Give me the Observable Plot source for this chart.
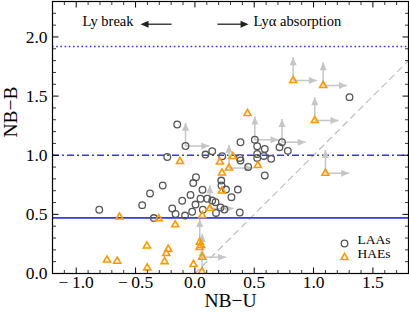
<!DOCTYPE html>
<html><head><meta charset="utf-8">
<script src="https://cdn.jsdelivr.net/npm/d3@7"></script>
<script src="https://cdn.jsdelivr.net/npm/@observablehq/plot@0.6"></script>
<style>html,body{margin:0;padding:0;background:#fff}#chart svg{display:block}</style>
</head><body><div id="chart"></div>
<script>
// ---- data ----
const laaX = [-0.149,-0.079,-0.233,0.089,0.146,0.230,0.384,0.505,0.734,0.525,0.589,0.713,0.783,0.525,0.525,0.581,0.643,0.378,0.384,0.449,0.589,1.303,0.222,0.224,0.362,0.308,0.009,-0.014,-0.271,-0.378,0.064,-0.037,-0.107,0.005,-0.444,-0.191,-0.023,-0.806,-0.083,-0.163,-0.346,0.047,0.104,0.146,0.174,0.067,0.216,0.249,0.178,0.378,0.262];
const laaY = [1.260,1.078,0.985,1.006,1.034,0.992,1.110,1.131,1.110,1.076,1.053,1.068,1.037,1.011,0.977,0.994,0.970,0.977,0.956,0.901,0.829,1.491,0.786,0.744,0.710,0.645,0.814,0.765,0.744,0.677,0.708,0.664,0.615,0.583,0.578,0.550,0.522,0.539,0.490,0.503,0.469,0.632,0.632,0.617,0.603,0.539,0.558,0.541,0.512,0.516,0.710];
const laaLimit = ["","ur","","","","","","ur","ur","","","","","","","","","","","","","","","","","","","","","","","","","","","","","","","","","","","","","","","","","",""];

const haeX = [0.828,1.081,1.010,0.443,1.100,-0.126,0.210,0.319,0.287,0.530,0.228,0.228,0.126,0.062,-0.635,-0.304,-0.166,-0.405,-0.225,-0.242,-0.256,-0.741,-0.655,-0.402,-0.012,0.041,0.051,0.039,0.062,0.060];
const haeY = [1.632,1.590,1.294,1.353,0.848,0.947,0.943,0.989,0.892,0.913,0.850,0.698,0.550,0.490,0.478,0.463,0.412,0.233,0.205,0.169,0.101,0.114,0.104,0.048,0.076,0.265,0.237,0.220,0.138,0.017];
const haeLimit = ["ur","ur","ur","","ur","","","","ur","","","","ur","","","","","","","","","","","","","u","","","ur","u"];

const thresholds = [0.47, 1.0, 1.92];      // solid, dash-dot, dotted
const oneToOne = [0, 1.8];
const xTicks = [-1.0,-0.5,0.0,0.5,1.0,1.5];
const yTicks = [0.0,0.5,1.0,1.5,2.0];
const legendLabels = ["LAAs","HAEs"];
const annotationLabels = ["Ly break","Lyα absorption"];
const xLabel = "NB−U", yLabel = "NB−B";

// ---- build tables ----
const laa = laaX.map((x,i)=>({x, y: laaY[i], lim: laaLimit[i]}));
const hae = haeX.map((x,i)=>({x, y: haeY[i], lim: haeLimit[i]}));
const all = laa.concat(hae);
const arrowLen = 0.2;
const upArrows = all.filter(d=>d.lim.includes("u")).map(d=>({x1:d.x,y1:d.y,x2:d.x,y2:d.y+arrowLen*0.98}));
const rightArrows = all.filter(d=>d.lim.includes("r")).map(d=>({x1:d.x,y1:d.y,x2:d.x+arrowLen,y2:d.y}));

const head = dir => ({draw(c){const L=8,W=3.5;
  if(dir==="up"){c.moveTo(0,0);c.lineTo(-W,L);c.lineTo(W,L);}
  else if(dir==="right"){c.moveTo(0,0);c.lineTo(-L,-W);c.lineTo(-L,W);}
  else {c.moveTo(0,0);c.lineTo(L,-W);c.lineTo(L,W);}
  c.closePath();}});
const tickSym = (dx,dy) => ({draw(c){c.moveTo(0,0);c.lineTo(dx,dy);}});

const xMinor = d3.range(-11,18).filter(i=>i%5!==0).map(i=>i/10);
const yMinor = d3.range(1,23).filter(i=>i%5!==0).map(i=>i/10);
const fmt = d => (d<0?"−\u2009":"") + Math.abs(d).toFixed(1);

const serif = "'Liberation Serif','Times New Roman',serif";
const gray = "#c6c6c6", blue = "#3636f4", orange = "#ff9900";
const M = 6, m = 3.5;

const chart = Plot.plot({
  width: 409, height: 316,
  marginLeft: 52, marginRight: 1, marginTop: 1, marginBottom: 43,
  x: {domain: [-1.2, 1.8], axis: null},
  y: {domain: [0, 2.3], axis: null},
  style: {fontFamily: serif, background: "#fff", color: "#000"},
  marks: [
    Plot.line(oneToOne, {x: d=>d, y: d=>d, stroke: "#bdbdbd", strokeWidth: 1.2, strokeDasharray: "6,5"}),
    Plot.ruleY([thresholds[0]], {stroke: blue, strokeWidth: 1.6}),
    Plot.ruleY([thresholds[1]], {stroke: blue, strokeWidth: 1.6, strokeDasharray: "7,3,2,3"}),
    Plot.ruleY([thresholds[2]], {stroke: blue, strokeWidth: 1.6, strokeDasharray: "1.6,2.6"}),
    // limit arrows
    Plot.link(upArrows, {x1:"x1",y1:"y1",x2:"x2",y2:"y2", stroke: gray, strokeWidth: 1.5}),
    Plot.link(rightArrows, {x1:"x1",y1:"y1",x2:"x2",y2:"y2", stroke: gray, strokeWidth: 1.5}),
    Plot.dot(upArrows, {x:"x2", y:"y2", symbol: head("up"), fill: gray, stroke: "none"}),
    Plot.dot(rightArrows, {x:"x2", y:"y2", symbol: head("right"), fill: gray, stroke: "none"}),
    // points
    Plot.dot(laa, {x:"x", y:"y", r: 3.3, stroke: "#555", strokeWidth: 1.3, fill: "none"}),
    Plot.dot(hae, {x:"x", y:"y", symbol: "triangle", r: 2.6, stroke: orange, strokeWidth: 1.6, fill: "none", clip: true}),
    // annotations
    Plot.text([annotationLabels[0]], {x: -0.517, y: 2.135, textAnchor: "end", fontSize: 14.5, fill: "#000"}),
    Plot.link([0], {x1: -0.197, x2: -0.40, y1: 2.108, y2: 2.108, stroke: "#222", strokeWidth: 1.3}),
    Plot.dot([0], {x: -0.458, y: 2.108, symbol: head("left"), fill: "#222", stroke: "none"}),
    Plot.text([annotationLabels[1]], {x: 0.494, y: 2.135, textAnchor: "start", fontSize: 14.5, fill: "#000"}),
    Plot.link([0], {x1: 0.19, x2: 0.40, y1: 2.108, y2: 2.108, stroke: "#222", strokeWidth: 1.3}),
    Plot.dot([0], {x: 0.452, y: 2.108, symbol: head("right"), fill: "#222", stroke: "none"}),
    // legend
    Plot.dot([legendLabels[0]], {frameAnchor: "bottom-right", dx: -64, dy: -30, r: 3.3, stroke: "#555", strokeWidth: 1.3, fill: "none"}),
    Plot.dot([legendLabels[1]], {frameAnchor: "bottom-right", dx: -64, dy: -16, symbol: "triangle", r: 2.6, stroke: orange, strokeWidth: 1.6, fill: "none"}),
    Plot.text([legendLabels[0]], {text: d=>d, frameAnchor: "bottom-right", dx: -51, dy: -30, textAnchor: "start", fontSize: 13.5, fill: "#000"}),
    Plot.text([legendLabels[1]], {text: d=>d, frameAnchor: "bottom-right", dx: -51, dy: -16, textAnchor: "start", fontSize: 13.5, fill: "#000"}),
    // frame and ticks
    Plot.frame({stroke: "#000", strokeWidth: 1.2}),
    Plot.dot(xTicks, {x: d=>d, frameAnchor: "bottom", symbol: tickSym(0,-M), stroke: "#000", strokeWidth: 1, fill: "none"}),
    Plot.dot(xTicks, {x: d=>d, frameAnchor: "top", symbol: tickSym(0,M), stroke: "#000", strokeWidth: 1, fill: "none"}),
    Plot.dot(xMinor, {x: d=>d, frameAnchor: "bottom", symbol: tickSym(0,-m), stroke: "#000", strokeWidth: 0.8, fill: "none"}),
    Plot.dot(xMinor, {x: d=>d, frameAnchor: "top", symbol: tickSym(0,m), stroke: "#000", strokeWidth: 0.8, fill: "none"}),
    Plot.dot(yTicks, {y: d=>d, frameAnchor: "left", symbol: tickSym(M,0), stroke: "#000", strokeWidth: 1, fill: "none"}),
    Plot.dot(yTicks, {y: d=>d, frameAnchor: "right", symbol: tickSym(-M,0), stroke: "#000", strokeWidth: 1, fill: "none"}),
    Plot.dot(yMinor, {y: d=>d, frameAnchor: "left", symbol: tickSym(m,0), stroke: "#000", strokeWidth: 0.8, fill: "none"}),
    Plot.dot(yMinor, {y: d=>d, frameAnchor: "right", symbol: tickSym(-m,0), stroke: "#000", strokeWidth: 0.8, fill: "none"}),
    // tick labels
    Plot.text(xTicks, {x: d=>d, text: fmt, frameAnchor: "bottom", dy: 14, fontSize: 17.5, fill: "#000"}),
    Plot.text(yTicks, {y: d=>d, text: fmt, frameAnchor: "left", dx: -5, textAnchor: "end", fontSize: 17.5, fill: "#000"}),
    // axis labels
    Plot.text([xLabel], {text: d=>d, frameAnchor: "bottom", dy: 33, fontSize: 19.5, fill: "#000"}),
    Plot.text([yLabel], {text: d=>d, frameAnchor: "left", dx: -42, rotate: -90, fontSize: 19.5, fill: "#000"})
  ]
});
document.getElementById("chart").appendChild(chart);
</script>
</body></html>
